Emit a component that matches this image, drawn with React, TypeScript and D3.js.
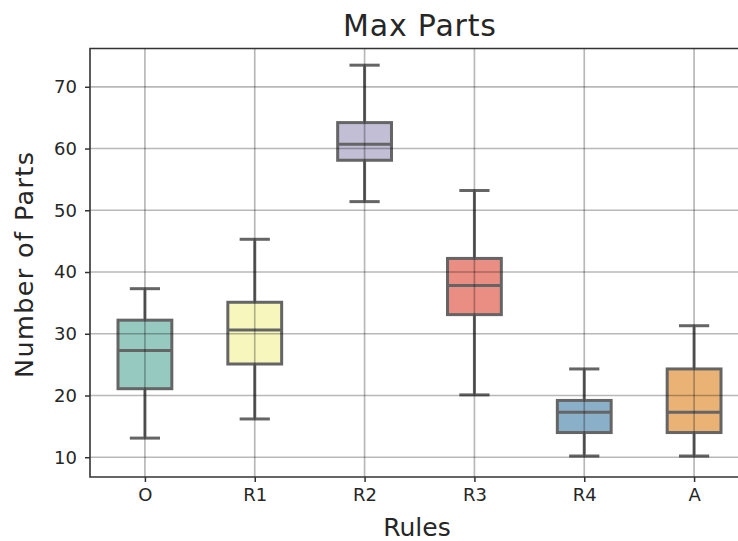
import React, { useEffect, useRef } from "react";
import * as d3 from "d3";

// Box plot summary per rule
const rules = ["O", "R1", "R2", "R3", "R4", "A"];
const whiskerLow = [13.1, 16.2, 51.4, 20.1, 10.2, 10.2];
const q1 = [21.1, 25.1, 58.1, 33.1, 14.0, 14.0];
const median = [27.3, 30.6, 60.7, 37.8, 17.3, 17.3];
const q3 = [32.2, 35.1, 64.2, 42.2, 19.2, 24.3];
const whiskerHigh = [37.3, 45.3, 73.5, 53.2, 24.3, 31.3];
const yTicks = [10, 20, 30, 40, 50, 60, 70];
const boxColors = ["#96cac1", "#f6f6bd", "#c1bed6", "#ea8e83", "#8aafc9", "#eab375"];

const W = 738;
const H = 541;

export default function App() {
  const ref = useRef<SVGSVGElement>(null);

  useEffect(() => {
    const svg = d3.select(ref.current);
    svg.selectAll("*").remove();

    // Plot area (right side runs past the picture, as in the original crop)
    const left = 90,
      right = 749,
      top = 48.5,
      bottom = 477;
    const lineColor = "#656565";
    const textColor = "#262626";
    const font = "DejaVu Sans, sans-serif";

    const x = d3.scalePoint<string>().domain(rules).range([left, right]).padding(0.5);
    const y = d3.scaleLinear().domain([6.8, 76.2]).range([bottom, top]);
    const step = x.step();
    const boxW = step * 0.49;
    const capW = step * 0.275;

    const data = rules.map((r, i) => ({
      rule: r,
      lo: whiskerLow[i],
      q1: q1[i],
      med: median[i],
      q3: q3[i],
      hi: whiskerHigh[i],
      color: boxColors[i],
    }));

    const boxes = svg.append("g").selectAll("g").data(data).join("g");

    // Whiskers
    boxes
      .append("line")
      .attr("x1", (d) => x(d.rule)!)
      .attr("x2", (d) => x(d.rule)!)
      .attr("y1", (d) => y(d.lo))
      .attr("y2", (d) => y(d.q1))
      .attr("stroke", lineColor)
      .attr("stroke-width", 3);
    boxes
      .append("line")
      .attr("x1", (d) => x(d.rule)!)
      .attr("x2", (d) => x(d.rule)!)
      .attr("y1", (d) => y(d.q3))
      .attr("y2", (d) => y(d.hi))
      .attr("stroke", lineColor)
      .attr("stroke-width", 3);
    // Caps
    ["lo", "hi"].forEach((k) => {
      boxes
        .append("line")
        .attr("x1", (d) => x(d.rule)! - capW / 2)
        .attr("x2", (d) => x(d.rule)! + capW / 2)
        .attr("y1", (d: any) => y(d[k]))
        .attr("y2", (d: any) => y(d[k]))
        .attr("stroke", lineColor)
        .attr("stroke-width", 3);
    });
    // Boxes
    boxes
      .append("rect")
      .attr("x", (d) => x(d.rule)! - boxW / 2)
      .attr("width", boxW)
      .attr("y", (d) => y(d.q3))
      .attr("height", (d) => y(d.q1) - y(d.q3))
      .attr("fill", (d) => d.color)
      .attr("stroke", lineColor)
      .attr("stroke-width", 3);
    // Medians
    boxes
      .append("line")
      .attr("x1", (d) => x(d.rule)! - boxW / 2)
      .attr("x2", (d) => x(d.rule)! + boxW / 2)
      .attr("y1", (d) => y(d.med))
      .attr("y2", (d) => y(d.med))
      .attr("stroke", lineColor)
      .attr("stroke-width", 3);

    // Grid on top of boxes
    const grid = svg.append("g").attr("stroke", "#000").attr("stroke-opacity", 0.28).attr("stroke-width", 1.7);
    grid
      .selectAll("line.h")
      .data(yTicks)
      .join("line")
      .attr("x1", left)
      .attr("x2", right)
      .attr("y1", (d) => y(d))
      .attr("y2", (d) => y(d));
    grid
      .selectAll("line.v")
      .data(rules)
      .join("line")
      .attr("x1", (d) => x(d)!)
      .attr("x2", (d) => x(d)!)
      .attr("y1", top)
      .attr("y2", bottom);

    // Spines
    svg
      .append("path")
      .attr("d", `M${right},${top}H${left}V${bottom}H${right}`)
      .attr("fill", "none")
      .attr("stroke", "#333")
      .attr("stroke-width", 1.6);

    // Axes
    const yAxis = svg
      .append("g")
      .attr("transform", `translate(${left},0)`)
      .call(d3.axisLeft(y).tickValues(yTicks).tickSize(5).tickPadding(8));
    const xAxis = svg
      .append("g")
      .attr("transform", `translate(0,${bottom})`)
      .call(d3.axisBottom(x).tickSize(5).tickPadding(6));
    [yAxis, xAxis].forEach((a) => {
      a.select(".domain").remove();
      a.selectAll(".tick line").attr("stroke", "#333").attr("stroke-width", 1.5);
      a.selectAll(".tick text")
        .attr("fill", textColor)
        .attr("font-size", 18)
        .attr("font-family", font);
    });

    // Title and labels
    svg
      .append("text")
      .attr("x", 419.5)
      .attr("y", 36)
      .attr("text-anchor", "middle")
      .attr("font-size", 30)
      .attr("font-family", font)
      .attr("fill", textColor)
      .attr("textLength", 153)
      .attr("lengthAdjust", "spacing")
      .text("Max Parts");
    svg
      .append("text")
      .attr("x", 417)
      .attr("y", 536)
      .attr("text-anchor", "middle")
      .attr("font-size", 25)
      .attr("font-family", font)
      .attr("fill", textColor)
      .text("Rules");
    svg
      .append("text")
      .attr("transform", `translate(32.5,265) rotate(-90)`)
      .attr("text-anchor", "middle")
      .attr("font-size", 25.5)
      .attr("font-family", font)
      .attr("fill", textColor)
      .attr("textLength", 226)
      .attr("lengthAdjust", "spacing")
      .text("Number of Parts");
  }, []);

  return (
    <svg
      ref={ref}
      width={W}
      height={H}
      style={{ position: "absolute", left: 0, top: 0, background: "#fff", overflow: "hidden" }}
    />
  );
}
